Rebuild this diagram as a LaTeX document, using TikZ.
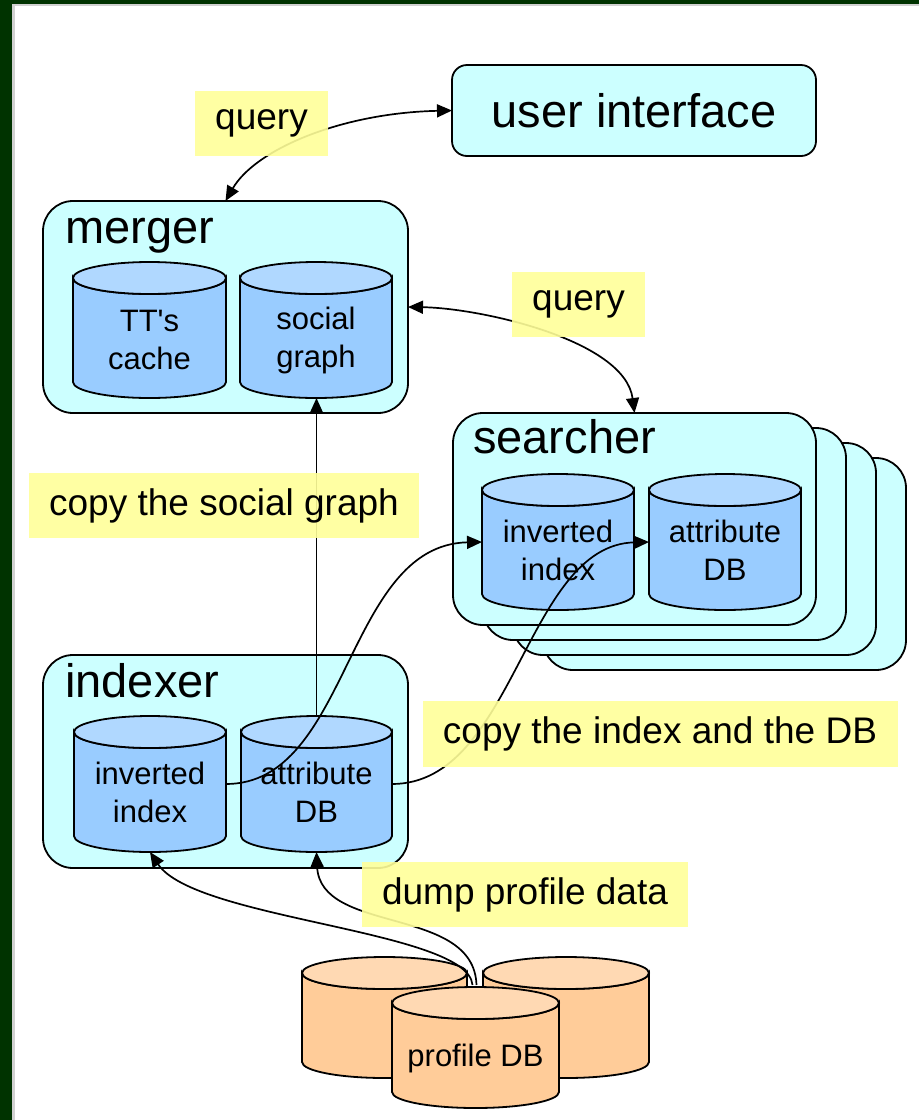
\documentclass[tikz,border=0pt]{standalone}
\usepackage{fontspec}
\setmainfont{Liberation Sans}[Ligatures=TeXOff]
\usetikzlibrary{arrows.meta,calc}
\definecolor{bgreen}{HTML}{003300}
\definecolor{boxcyan}{HTML}{CCFFFF}
\definecolor{cylbody}{HTML}{99CCFF}
\definecolor{cyltop}{HTML}{B0D8FF}
\definecolor{orbody}{HTML}{FFCC99}
\definecolor{ortop}{HTML}{FFD9B3}
\definecolor{lblyellow}{HTML}{FFFF99}
\tikzset{
  box/.style={draw, line width=1.8pt, fill=boxcyan, rounded corners=30pt, inner sep=0pt, outer sep=0pt},
  boxtitle/.style={inner sep=0pt, font=\fontsize{47}{52}\selectfont},
  cylbox/.style={inner sep=0pt, outer sep=0pt, draw=none},
  cylline/.style={line width=1.8pt, draw=black},
  cyltext/.style={inner sep=0pt, align=center, font=\fontsize{31}{38}\selectfont},
  lbl/.style={fill=lblyellow, fill opacity=0.9, text opacity=1, inner sep=0pt, font=\fontsize{37}{42}\selectfont},
  conn/.style={line width=1.7pt, -{Triangle[length=15pt,width=13pt]}},
  biconn/.style={line width=1.7pt, {Triangle[length=15pt,width=13pt]}-{Triangle[length=15pt,width=13pt]}},
  plainline/.style={line width=1.7pt}
}
% name, x, y(pixel, down), width, height, body, top, text, text shift
\newcommand\dbcyl[9]{%
  \node[cylbox, minimum width=#4pt, minimum height=#5pt] (#1) at (#2,-#3) {};
  \pgfmathsetmacro\mycylrx{#4/2}%
  \filldraw[cylline, fill=#6] ([yshift=-16pt]#1.north west) -- ([yshift=16pt]#1.south west)
     arc[start angle=180,end angle=360,x radius=\mycylrx pt,y radius=16pt]
     -- ([yshift=-16pt]#1.north east)
     arc[start angle=0,end angle=-180,x radius=\mycylrx pt,y radius=16pt] -- cycle;
  \filldraw[cylline, fill=#7] ([yshift=-16pt]#1.north) ellipse[x radius=\mycylrx pt, y radius=16pt];
  \node[cyltext, yshift=-#9pt] (#1-t) at (#1) {#8};
}
\begin{document}
\begin{tikzpicture}[x=1pt,y=1pt]
\useasboundingbox (0,0) rectangle (919,-1120);
\fill[bgreen] (0,0) rectangle (919,-1120);
\fill[black!18] (12,-4) rectangle (919,-1120);
\fill[white] (15,-6) rectangle (919,-1120);

% user interface
\node[box, rounded corners=15pt, minimum width=364pt, minimum height=91pt,
      font=\fontsize{47}{52}\selectfont] (ui) at (634,-110.5) {user interface};

% merger
\node[box, minimum width=365pt, minimum height=212pt] (merger) at (225.5,-307) {};
\node[boxtitle, anchor=base west] (mergerlbl) at (65,-243) {merger};
\dbcyl{tc}{149.5}{330}{153}{136}{cylbody}{cyltop}{TT's\\cache}{10}
\dbcyl{sg}{316}{330}{152}{136}{cylbody}{cyltop}{social\\graph}{10}

% searcher stack
\node[box, minimum width=363pt, minimum height=212pt] (s4) at (724.5,-564) {};
\node[box, minimum width=363pt, minimum height=212pt] (s3) at (694.5,-549) {};
\node[box, minimum width=363pt, minimum height=212pt] (s2) at (664.5,-534) {};
\node[box, minimum width=363pt, minimum height=212pt] (searcher) at (634.5,-519) {};
\node[boxtitle, anchor=base west] (searcherlbl) at (473,-453) {searcher};
\dbcyl{sii}{558}{542}{152}{136}{cylbody}{cyltop}{inverted\\index}{8}
\dbcyl{sad}{725}{542}{152}{136}{cylbody}{cyltop}{attribute\\DB}{8}

% indexer
\node[box, minimum width=365pt, minimum height=213pt] (indexer) at (225.5,-761.5) {};
\node[boxtitle, anchor=base west] (indexerlbl) at (65,-697) {indexer};
\dbcyl{iii}{150}{784}{152}{136}{cylbody}{cyltop}{inverted\\index}{8}
\dbcyl{iad}{316.5}{784}{151}{136}{cylbody}{cyltop}{attribute\\DB}{8}

% profile DBs
\dbcyl{pl}{384.5}{1017.5}{165}{121}{orbody}{ortop}{}{0}
\dbcyl{pr}{566}{1017.5}{166}{121}{orbody}{ortop}{}{0}
\dbcyl{pf}{475.5}{1047.5}{167}{121}{orbody}{ortop}{profile DB}{11}

% connectors
\draw[biconn] (merger.north) .. controls (255,-150) and (340,-113) .. (ui.west);
\draw[biconn] (merger.east) .. controls (480,-308) and (625,-340) .. (searcher.north);
\draw[conn] (iad.north) -- (iad.north |- sg.south);
\draw[conn] (iii.east) .. controls (350,-784) and (345,-545) .. (sii.west);
\draw[conn] (iad.east) .. controls (515,-784) and (525,-545) .. (sad.west);
\draw[conn] ([xshift=-3pt,yshift=2pt]pf.north) .. controls (468,-930) and (195,-920) .. (iii.south);
\draw[conn] ([xshift=1pt,yshift=2pt]pf.north) .. controls (474,-905) and (320,-935) .. (iad.south);

% labels
\node[lbl, minimum width=133pt, minimum height=65pt] (q1) at (261.5,-123.5) {query};
\node[lbl, minimum width=133pt, minimum height=65pt] (q2) at (578.5,-304.5) {query};
\node[lbl, minimum width=390pt, minimum height=65pt] (cs) at (224,-505.5) {copy the social graph};
\node[lbl, minimum width=475pt, minimum height=66pt] (ci) at (660,-734) {copy the index and the DB};
\node[lbl, minimum width=326pt, minimum height=65pt] (dp) at (525,-894.5) {dump profile data};
\end{tikzpicture}
\end{document}
